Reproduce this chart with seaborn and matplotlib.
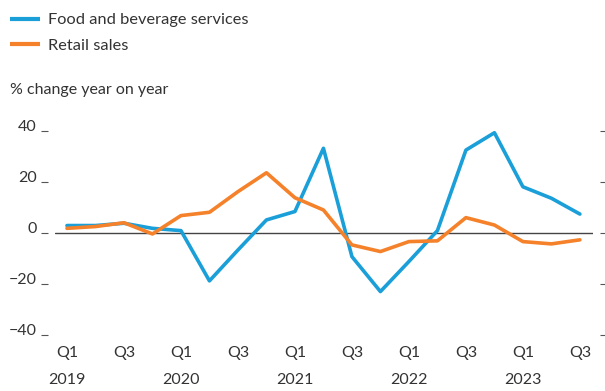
import matplotlib
matplotlib.use("Agg")
import matplotlib.pyplot as plt
import seaborn as sns
import pandas as pd
import numpy as np
from matplotlib.lines import Line2D

quarters = ["Q1 2019", "Q2 2019", "Q3 2019", "Q4 2019",
            "Q1 2020", "Q2 2020", "Q3 2020", "Q4 2020",
            "Q1 2021", "Q2 2021", "Q3 2021", "Q4 2021",
            "Q1 2022", "Q2 2022", "Q3 2022", "Q4 2022",
            "Q1 2023", "Q2 2023", "Q3 2023"]
food_bev = [2.9, 2.9, 3.8, 1.8, 0.9, -18.8, -6.7, 5.1, 8.4, 33.2, -9.3, -23.0,
            -11.2, 0.9, 32.5, 39.3, 18.1, 13.6, 7.4]
retail = [1.8, 2.5, 4.0, -0.4, 6.8, 8.1, 16.2, 23.6, 13.8, 9.0, -4.7, -7.3,
          -3.4, -3.1, 6.0, 3.1, -3.4, -4.3, -2.7]
series_names = ["Food and beverage services", "Retail sales"]
colors = ["#1a9fd9", "#f5822a"]
y_ticks = [-40, -20, 0, 20, 40]
y_ticklabels = ["\u221240", "\u221220", "0", "20", "40"]
x_tick_idx = [0, 2, 4, 6, 8, 10, 12, 14, 16, 18]
x_ticklabels = ["Q1\n2019", "Q3", "Q1\n2020", "Q3", "Q1\n2021", "Q3",
                "Q1\n2022", "Q3", "Q1\n2023", "Q3"]

sns.set_theme(style="white")
plt.rcParams["font.family"] = ["Lato", "DejaVu Sans"]
text_color = "#333333"

df = pd.DataFrame({
    "idx": list(range(len(quarters))) * 2,
    "value": food_bev + retail,
    "series": [series_names[0]] * len(quarters) + [series_names[1]] * len(quarters),
})

fig = plt.figure(figsize=(6.05, 3.91), dpi=100)
ax = fig.add_axes([55 / 605, (391 - 340) / 391, 538 / 605, 220 / 391])

ax.axhline(0, color="#444444", lw=1.0, zorder=1)
sns.lineplot(data=df, x="idx", y="value", hue="series", palette=colors,
             hue_order=series_names, linewidth=2.6, ax=ax, legend=False, zorder=3)

ax.set_xlim(-0.42, 18.46)
ax.set_ylim(-42, 44.3)
ax.set_xlabel("")
ax.set_ylabel("")

for s in ax.spines.values():
    s.set_visible(False)

ax.set_yticks(y_ticks)
ax.set_yticklabels(y_ticklabels)
ax.spines["left"].set_position(("outward", 5))
ax.spines["right"].set_position(("outward", 5))
ax.tick_params(axis="y", which="both", left=True, right=True, direction="out",
               length=5, width=0.8, color="#555555", labelsize=11.5,
               labelcolor=text_color, pad=3, labelleft=True, labelright=False)
for lab in ax.get_yticklabels():
    lab.set_va("baseline")

ax.set_xticks(x_tick_idx)
ax.set_xticklabels(x_ticklabels, linespacing=2.2)
ax.tick_params(axis="x", bottom=False, length=0, labelsize=11.5,
               labelcolor=text_color, pad=4)

# legend
handles = [Line2D([0], [0], color=c, lw=3.0, solid_capstyle="butt") for c in colors]
leg = fig.legend(handles, series_names, loc="upper left",
                 bbox_to_anchor=(10 / 605, 1 - 13 / 391), frameon=False,
                 fontsize=11.8, handlelength=1.85, handletextpad=0.45,
                 labelspacing=0.66, borderaxespad=0, borderpad=0)
for t in leg.get_texts():
    t.set_color(text_color)

fig.text(10 / 605, 1 - 90 / 391, "% change year on year", fontsize=11.5,
         color=text_color, va="center", ha="left")

fig.savefig("out.png", dpi=100)
